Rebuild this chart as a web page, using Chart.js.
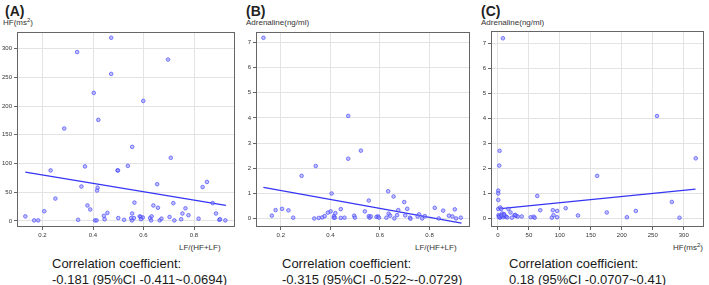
<!DOCTYPE html>
<html lang="en">
<head>
    <meta charset="UTF-8">
    <title>Correlation scatter plots</title>
    <script src="https://cdn.jsdelivr.net/npm/chart.js"></script>
    <style>
        body { margin: 0; width: 709px; height: 285px; background: #fff; position: relative; overflow: hidden;
               font-family: "Liberation Sans", Arial, sans-serif; color: #222; }
        canvas, .lbl { position: absolute; }
        .panel { font-weight: bold; font-size: 14px; top: 3px; }
        .axis { font-size: 8px; line-height: 10px; color: #333; }
        .axis sup { font-size: 6px; line-height: 0; vertical-align: 3px; }
        .corr { font-size: 13px; line-height: 16px; top: 256px; color: #1a1a1a; }
    </style>
</head>
<body>
    <div class="lbl panel" style="left:5px">(A)</div>
    <div class="lbl panel" style="left:246px">(B)</div>
    <div class="lbl panel" style="left:481px">(C)</div>

    <div class="lbl axis" style="left:3px; top:18px">HF(ms<sup>2</sup>)</div>
    <div class="lbl axis" style="left:246px; top:18px">Adrenaline(ng/ml)</div>
    <div class="lbl axis" style="left:481px; top:18px">Adrenaline(ng/ml)</div>

    <div class="lbl axis" style="left:179px; top:243px">LF/(HF+LF)</div>
    <div class="lbl axis" style="left:415px; top:243px">LF/(HF+LF)</div>
    <div class="lbl axis" style="left:673px; top:243px">HF(ms<sup>2</sup>)</div>

    <div class="lbl corr" style="left:52px">Correlation coefficient:<br>-0.181 (95%CI -0.411~0.0694)</div>
    <div class="lbl corr" style="left:282px">Correlation coefficient:<br>-0.315 (95%CI -0.522~-0.0729)</div>
    <div class="lbl corr" style="left:509px">Correlation coefficient:<br>0.18 (95%CI -0.0707~0.41)</div>

    <canvas id="chartA" width="240" height="245" style="left:0; top:0"></canvas>
    <canvas id="chartB" width="240" height="245" style="left:235px; top:0"></canvas>
    <canvas id="chartC" width="239" height="245" style="left:470px; top:0"></canvas>

    <script>
        // (A) LF/(HF+LF) vs HF
        const aLF = [0.132, 0.167, 0.183, 0.207, 0.232, 0.251, 0.286, 0.337, 0.341, 0.354, 0.368, 0.378, 0.389,
            0.403, 0.408, 0.414, 0.416, 0.418, 0.421, 0.443, 0.446, 0.457, 0.472, 0.472, 0.497, 0.499, 0.5, 0.523,
            0.538, 0.555, 0.555, 0.554, 0.562, 0.564, 0.585, 0.589, 0.599, 0.597, 0.626, 0.63, 0.632, 0.639, 0.654,
            0.657, 0.664, 0.671, 0.697, 0.703, 0.708, 0.718, 0.722, 0.749, 0.754, 0.766, 0.778, 0.818, 0.834,
            0.851, 0.874, 0.887, 0.9, 0.903, 0.924, 0.551, 0.59];
        const aHF = [8, 1, 1, 17, 88, 39, 161, 294, 2, 60, 95, 27, 20,
            223, 1, 1, 53, 58, 176, 9, 3, 14, 319, 256, 88, 88, 5, 2,
            96, 129, 13, 1, 5, 32, 8, 7, 209, 6, 5, 1, 8, 27, 64,
            23, 1, 4, 281, 7, 110, 31, 1, 3, 13, 22, 10, 4, 59,
            68, 31, 13, 2, 3, 1, 5, 3];
        const aFitX = [0.132, 0.926];
        const aFitY = [85, 27];

        // (B) LF/(HF+LF) vs adrenaline
        const bLF = [0.13, 0.164, 0.179, 0.205, 0.231, 0.25, 0.284, 0.335, 0.341, 0.353, 0.367, 0.377, 0.39,
            0.401, 0.405, 0.414, 0.414, 0.418, 0.42, 0.442, 0.442, 0.457, 0.472, 0.472, 0.496, 0.499, 0.523,
            0.539, 0.555, 0.555, 0.558, 0.563, 0.586, 0.592, 0.596, 0.626, 0.633, 0.635, 0.641, 0.655, 0.658,
            0.669, 0.674, 0.698, 0.702, 0.71, 0.721, 0.723, 0.752, 0.758, 0.77, 0.781, 0.821, 0.837, 0.855,
            0.878, 0.892, 0.902, 0.907, 0.926];
        const bAdr = [7.18, 0.12, 0.34, 0.39, 0.33, 0.04, 1.7, 0.01, 2.09, 0.03, 0.05, 0.1, 0.24,
            0.29, 1.0, 0.1, 0.04, 0.04, 0.22, 0.38, 0.03, 0.04, 4.08, 2.38, 0.12, 0.04, 2.7,
            0.29, 0.72, 0.1, 0.04, 0.09, 0.07, 0.09, 0.04, 0.04, 1.09, 0.2, 0.12, 0.88, 0.01,
            0.14, 0.34, 0.66, 0.13, 0.39, 0.04, 0.0, 0.09, 0.17, 0.01, 0.1, 0.43, 0.01, 0.32,
            0.12, 0.09, 0.37, 0.01, 0.04];
        const bFitX = [0.13, 0.929];
        const bFitY = [1.24, -0.18];

        // (C) HF vs adrenaline
        const cHF = [8, 2.7, 2.1, 0.5, 0.5, 0.5, 0.5, 3.7, 5.3, 1, 2.1, 3.2, 4.8, 6.4, 8, 9.6, 11.2, 13.3,
            17, 20.3, 22.4, 26.7, 29.4, 32, 38.4, 52.9, 57.7, 59.3, 63.5, 68.3, 87, 88.6, 89.7, 95.6, 95.6,
            109.4, 129.2, 160.2, 175.7, 208.2, 222.6, 256.8, 280.8, 293.1, 319.3, 1.5, 6, 10, 15, 28];
        const cAdr = [7.19, 2.7, 2.11, 1.11, 1.0, 0.74, 0.38, 0.44, 0.38, 0.13, 0.08, 0.03, 0.09, 0.2, 0.05, 0.18, 0.09, 0.07,
            0.38, 0.24, 0.03, 0.13, 0.1, 0.08, 0.08, 0.05, 0.07, 0.03, 0.9, 0.33, 0.03, 0.33, 0.13, 0.3, 0.05,
            0.41, 0.12, 1.7, 0.24, 0.05, 0.3, 4.09, 0.66, 0.03, 2.4, 0.06, 0.12, 0.15, 0.04, 0.14];
        const cFitX = [0.5, 319];
        const cFitY = [0.38, 1.17];

        // tick labels
        const ticksLF = [0.2, 0.4, 0.6, 0.8];
        const ticksHF = [0, 50, 100, 150, 200, 250, 300];
        const ticksAdr = [0, 1, 2, 3, 4, 5, 6, 7];

        const toPoints = (xs, ys) => xs.map((x, i) => ({ x: x, y: ys[i] }));

        // box around the plot area
        const framePlugin = {
            id: 'frame',
            afterDraw(chart) {
                const a = chart.chartArea, ctx = chart.ctx;
                ctx.save();
                ctx.strokeStyle = '#666';
                ctx.lineWidth = 1;
                ctx.strokeRect(Math.round(a.left) + 0.5, Math.round(a.top) + 0.5,
                    Math.round(a.right - a.left) - 1, Math.round(a.bottom - a.top) - 1);
                ctx.restore();
            }
        };

        function makePanel(id, xs, ys, fitX, fitY, xr, yr, xTicks, yTicks, yWidth, pad) {
            return new Chart(document.getElementById(id), {
                type: 'scatter',
                data: {
                    datasets: [{
                        data: toPoints(xs, ys),
                        pointRadius: 1.8,
                        pointBorderWidth: 0.8,
                        backgroundColor: 'rgba(140,140,255,0.55)',
                        borderColor: 'rgba(70,70,255,0.85)'
                    }, {
                        data: toPoints(fitX, fitY),
                        showLine: true,
                        pointRadius: 0,
                        borderColor: '#3535f5',
                        borderWidth: 1.3
                    }]
                },
                options: {
                    responsive: false,
                    animation: false,
                    layout: { padding: pad },
                    plugins: { legend: { display: false }, tooltip: { enabled: false } },
                    scales: {
                        x: {
                            type: 'linear', min: xr[0], max: xr[1],
                            afterBuildTicks: s => { s.ticks = xTicks.map(v => ({ value: v })); },
                            afterFit: s => { s.height = 18; },
                            grid: { color: '#e3e3e3', tickColor: '#666', tickLength: 3 },
                            border: { display: false },
                            ticks: { font: { size: 6, family: 'Liberation Sans' }, color: '#333', padding: 2, maxRotation: 0 }
                        },
                        y: {
                            min: yr[0], max: yr[1],
                            afterBuildTicks: s => { s.ticks = yTicks.map(v => ({ value: v })); },
                            afterFit: s => { s.width = yWidth; },
                            grid: { color: '#e3e3e3', tickColor: '#666', tickLength: 3 },
                            border: { display: false },
                            ticks: { font: { size: 6, family: 'Liberation Sans' }, color: '#333', padding: 2 }
                        }
                    }
                },
                plugins: [framePlugin]
            });
        }

        makePanel('chartA', aLF, aHF, aFitX, aFitY, [0.099, 0.963], [-10.5, 329], ticksLF, ticksHF, 17,
            { top: 32, right: 4, left: 0, bottom: 0 });
        makePanel('chartB', bLF, bAdr, bFitX, bFitY, [0.1, 0.964], [-0.33, 7.41], ticksLF, ticksAdr, 21,
            { top: 32, right: 4, left: 0, bottom: 0 });
        makePanel('chartC', cHF, cAdr, cFitX, cFitY, [-11.2, 333], [-0.34, 7.48], ticksHF, ticksAdr, 21,
            { top: 31, right: 3, left: 0, bottom: 0 });
    </script>
</body>
</html>
